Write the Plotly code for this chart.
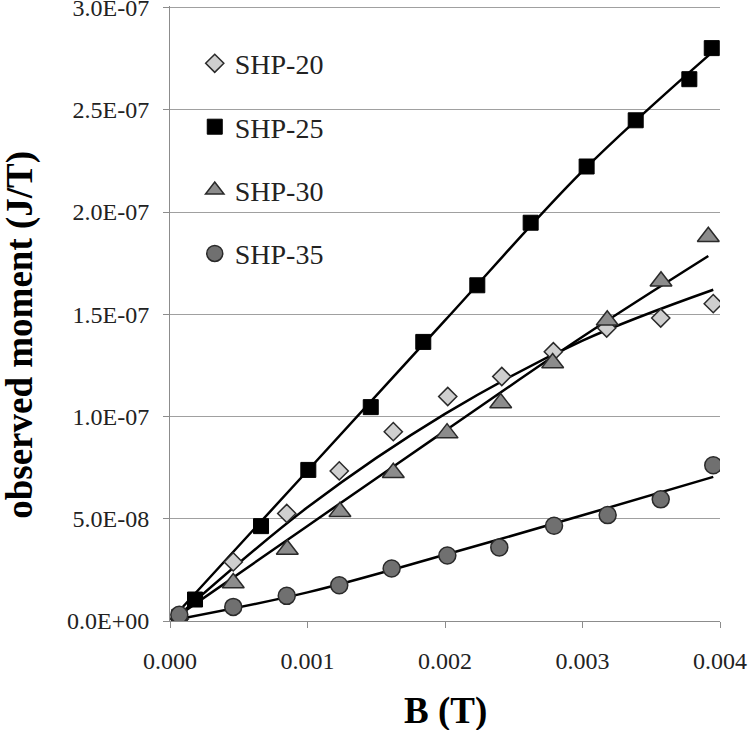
import plotly.graph_objects as go

# ---------------- data ----------------
shp20_x = [0.0000676, 0.000460, 0.000849, 0.001231, 0.001624, 0.002020, 0.002413, 0.002788, 0.003176, 0.003569, 0.003951]
shp20_y = [1.0e-9, 2.89e-8, 5.26e-8, 7.34e-8, 9.26e-8, 1.098e-7, 1.196e-7, 1.317e-7, 1.433e-7, 1.482e-7, 1.552e-7]

shp25_x = [0.0000676, 0.000182, 0.000662, 0.001006, 0.001460, 0.001842, 0.002235, 0.002623, 0.003030, 0.003387, 0.003777, 0.003940]
shp25_y = [2.0e-9, 1.05e-8, 4.64e-8, 7.39e-8, 1.046e-7, 1.365e-7, 1.642e-7, 1.948e-7, 2.223e-7, 2.449e-7, 2.650e-7, 2.802e-7]

shp30_x = [0.0000676, 0.000460, 0.000853, 0.001236, 0.001624, 0.002015, 0.002405, 0.002783, 0.003180, 0.003571, 0.003915]
shp30_y = [0.0, 1.86e-8, 3.50e-8, 5.34e-8, 7.25e-8, 9.19e-8, 1.066e-7, 1.262e-7, 1.471e-7, 1.662e-7, 1.879e-7]

shp35_x = [0.0000676, 0.000460, 0.000849, 0.001231, 0.001612, 0.002017, 0.002395, 0.002793, 0.003183, 0.003569, 0.003951]
shp35_y = [3.0e-9, 6.9e-9, 1.23e-8, 1.75e-8, 2.57e-8, 3.20e-8, 3.60e-8, 4.66e-8, 5.18e-8, 5.95e-8, 7.62e-8]

# fitted curves
fit20_x = [0.0000676, 0.001, 0.002, 0.003, 0.003951]
fit20_y = [3.0e-9, 5.56e-8, 1.013e-7, 1.371e-7, 1.620e-7]
fit25_x = [0.0000676, 0.001, 0.002, 0.003, 0.003940]
fit25_y = [5.0e-9, 7.35e-8, 1.470e-7, 2.200e-7, 2.780e-7]
fit30_x = [0.0000676, 0.001, 0.002, 0.003, 0.003915]
fit30_y = [3.0e-9, 4.65e-8, 9.30e-8, 1.390e-7, 1.785e-7]
fit35_x = [0.0000676, 0.001, 0.002, 0.003, 0.003951]
fit35_y = [1.0e-9, 1.40e-8, 3.24e-8, 5.17e-8, 7.05e-8]

series_names = ["SHP-20", "SHP-25", "SHP-30", "SHP-35"]

y_tickvals = [0, 5e-8, 1e-7, 1.5e-7, 2e-7, 2.5e-7, 3e-7]
y_ticktext = ["0.0E+00", "5.0E-08", "1.0E-07", "1.5E-07", "2.0E-07", "2.5E-07", "3.0E-07"]
x_tickvals = [0, 0.001, 0.002, 0.003, 0.004]
x_ticktext = ["0.000", "0.001", "0.002", "0.003", "0.004"]

x_title = "B (T)"
y_title = "observed moment (J/T)"

# ---------------- styling ----------------
FONT = "Liberation Serif, Times New Roman, serif"
styles = [
    dict(symbol="diamond", size=14, color="#cfcfcf", line=dict(color="#2a2a2a", width=1.5)),
    dict(symbol="square", size=15, color="#000000", line=dict(color="#000000", width=1)),
    dict(symbol="triangle-up", size=19, color="#8c8c8c", line=dict(color="#2a2a2a", width=1.5)),
    dict(symbol="circle", size=17, color="#707070", line=dict(color="#2a2a2a", width=1.5)),
]

data = [(shp20_x, shp20_y), (shp25_x, shp25_y), (shp30_x, shp30_y), (shp35_x, shp35_y)]
fits = [(fit20_x, fit20_y), (fit25_x, fit25_y), (fit30_x, fit30_y), (fit35_x, fit35_y)]

fig = go.Figure()

for fx, fy in fits:
    fig.add_trace(go.Scatter(x=fx, y=fy, mode="lines",
                             line=dict(color="#000000", width=2.5, shape="spline", smoothing=1.0),
                             showlegend=False, hoverinfo="skip"))

for (xs, ys), name, st in zip(data, series_names, styles):
    fig.add_trace(go.Scatter(x=xs, y=ys, mode="markers", name=name,
                             legendgroup=name, marker=st))

fig.update_layout(
    width=748, height=730,
    margin=dict(l=170, r=28, t=6, b=109, autoexpand=False),
    paper_bgcolor="white", plot_bgcolor="white",
    font=dict(family=FONT, size=24, color="#222222"),
    showlegend=True,
    legend=dict(x=0.045, y=0.947, xanchor="left", yanchor="top",
                font=dict(family=FONT, size=28, color="#222222"),
                bgcolor="rgba(0,0,0,0)", tracegroupgap=24,
                traceorder="grouped", itemwidth=30),
    xaxis=dict(range=[0, 0.004], tickvals=x_tickvals, ticktext=x_ticktext,
               showgrid=False, zeroline=False, showline=True, automargin=False,
               linecolor="#8c8c8c", linewidth=1, ticks="outside",
               ticklen=6, tickcolor="#8c8c8c", ticklabelstandoff=12,
               ticklabeloverflow="allow",
               tickfont=dict(family=FONT, size=24, color="#222222")),
    yaxis=dict(range=[0, 3.008e-7], tickvals=y_tickvals, ticktext=y_ticktext,
               showgrid=True, gridcolor="#a0a0a0", gridwidth=1,
               zeroline=False, showline=True, automargin=False,
               linecolor="#8c8c8c", linewidth=1, ticks="outside",
               ticklen=6, tickcolor="#8c8c8c", ticklabelstandoff=9,
               ticklabeloverflow="allow",
               tickfont=dict(family=FONT, size=24, color="#222222")),
    annotations=[
        dict(text="<b>%s</b>" % x_title, xref="paper", yref="paper",
             x=0.5, y=-0.146, xanchor="center", yanchor="middle",
             showarrow=False, font=dict(family=FONT, size=37, color="#000000")),
        dict(text="<b>%s</b>" % y_title, xref="paper", yref="paper",
             x=-0.272, y=0.466, xanchor="center", yanchor="middle",
             textangle=-90, showarrow=False,
             font=dict(family=FONT, size=37, color="#000000")),
    ],
)

fig.write_html("out.html", config={"displayModeBar": False},
               post_script="document.body.style.margin='0px';document.body.style.overflow='hidden';")
